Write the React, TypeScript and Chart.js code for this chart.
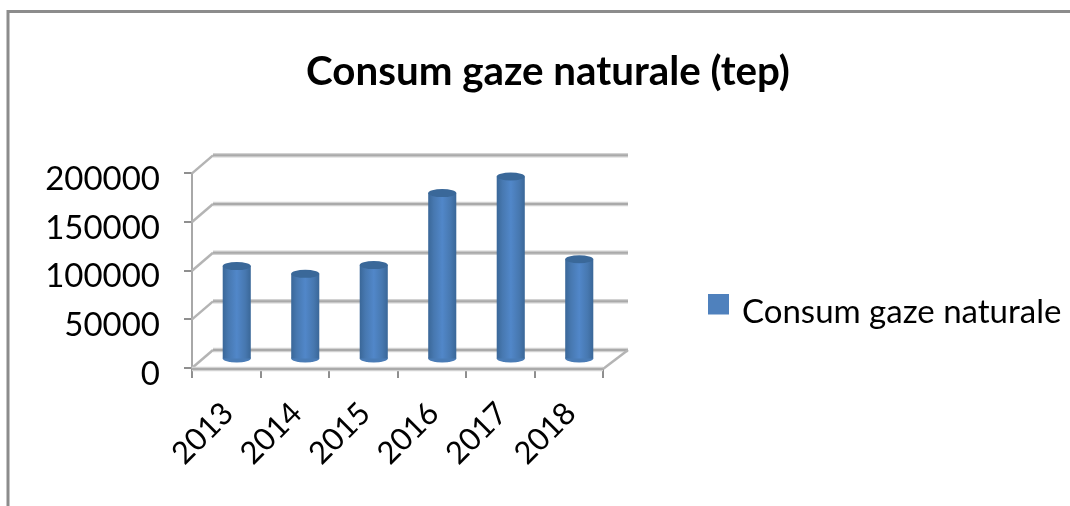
import React, { useEffect, useRef } from "react";
import { Chart, registerables } from "chart.js";

Chart.register(...registerables);

const categories = ["2013", "2014", "2015", "2016", "2017", "2018"];
const seriesName = "Consum gaze naturale";
const gasValues = [96000, 88000, 97000, 171000, 188000, 103000];
const titleText = "Consum gaze naturale (tep)";
const yTicks = { min: 0, max: 200000, step: 50000 };

const FONT = "Lato, Carlito, 'Open Sans', sans-serif";
const DEPTH_X = 21;
const DEPTH_Y = -18;
const BAR_DX = 10.5;
const BAR_DY = -8.5;

const legendSwatch = () => {
  const c = document.createElement("canvas");
  c.width = 21;
  c.height = 37;
  const g = c.getContext("2d") as CanvasRenderingContext2D;
  g.fillStyle = "#4f81bd";
  g.fillRect(0, 0, 21, 21);
  return c;
};

const perspective = {
  id: "perspective",
  afterLayout(chart: any) {
    chart.titleBlock.left = 26;
    chart.titleBlock.right = 1070;
    const leg = chart.legend;
    const shiftY = 59;
    leg.left = 701.5;
    leg.right = 1070;
    leg.width = 368.5;
    leg.top += shiftY;
    leg.bottom += shiftY;
  },
  beforeDraw(chart: any) {
    const { ctx, width, height } = chart;
    ctx.save();
    ctx.strokeStyle = "#8c8c8c";
    ctx.lineWidth = 3;
    ctx.beginPath();
    ctx.moveTo(8, height);
    ctx.lineTo(8, 11.5);
    ctx.lineTo(width, 11.5);
    ctx.stroke();
    ctx.restore();
  },
  beforeDatasetsDraw(chart: any) {
    const { ctx, chartArea, scales } = chart;
    const { left, right } = chartArea;
    const soft = (x1: number, y1: number, x2: number, y2: number) => {
      ctx.strokeStyle = "#d2d2d2";
      ctx.lineWidth = 4.5;
      ctx.beginPath();
      ctx.moveTo(x1, y1);
      ctx.lineTo(x2, y2);
      ctx.stroke();
      ctx.strokeStyle = "#aaaaaa";
      ctx.lineWidth = 2;
      ctx.beginPath();
      ctx.moveTo(x1, y1);
      ctx.lineTo(x2, y2);
      ctx.stroke();
    };
    ctx.save();
    scales.y.ticks.forEach((tick: any) => {
      const y = scales.y.getPixelForValue(tick.value);
      soft(left + DEPTH_X, y + DEPTH_Y, right + DEPTH_X + 4, y + DEPTH_Y);
      ctx.lineWidth = 2.5;
      ctx.strokeStyle = "#b4b4b4";
      ctx.beginPath();
      ctx.moveTo(left, y);
      ctx.lineTo(left + DEPTH_X, y + DEPTH_Y);
      ctx.stroke();
    });
    const y0 = scales.y.getPixelForValue(0);
    soft(left, y0 + 1, right, y0 + 1);
    ctx.lineWidth = 2.5;
    ctx.strokeStyle = "#b4b4b4";
    ctx.beginPath();
    ctx.moveTo(right, y0 + 1);
    ctx.lineTo(right + DEPTH_X + 4, y0 + DEPTH_Y);
    ctx.stroke();
    ctx.restore();
  },
  beforeDatasetDraw(chart: any) {
    const { ctx } = chart;
    ctx.save();
    ctx.translate(BAR_DX, BAR_DY);
    const meta = chart.getDatasetMeta(0);
    meta.data.forEach((bar: any) => {
      ctx.fillStyle = "#4a7cb6";
      ctx.beginPath();
      ctx.ellipse(bar.x, bar.base, bar.width / 2, 4, 0, 0, Math.PI * 2);
      ctx.fill();
    });
  },
  afterDatasetDraw(chart: any) {
    const { ctx } = chart;
    const meta = chart.getDatasetMeta(0);
    meta.data.forEach((bar: any) => {
      ctx.fillStyle = "#3a6899";
      ctx.beginPath();
      ctx.ellipse(bar.x, bar.y, bar.width / 2, 4, 0, 0, Math.PI * 2);
      ctx.fill();
    });
    ctx.restore();
  },
};

export default function App() {
  const ref = useRef<HTMLCanvasElement | null>(null);
  useEffect(() => {
    const swatch = legendSwatch();
    const chart = new Chart(ref.current as HTMLCanvasElement, {
      type: "bar",
      data: {
        labels: categories,
        datasets: [
          {
            label: seriesName,
            data: gasValues,
            barPercentage: 0.41,
            categoryPercentage: 1,
            borderWidth: 0,
            backgroundColor: (c: any) => {
              const ch = c.chart;
              if (!ch.chartArea || c.dataIndex === undefined) return "#4f81bd";
              const x = ch.scales.x.getPixelForValue(c.dataIndex);
              const half = ((ch.chartArea.right - ch.chartArea.left) / 6) * 0.205;
              const g = ch.ctx.createLinearGradient(x - half, 0, x + half, 0);
              g.addColorStop(0, "#3a6798");
              g.addColorStop(0.2, "#4778b0");
              g.addColorStop(0.5, "#5187c9");
              g.addColorStop(0.8, "#4778b0");
              g.addColorStop(1, "#3a6798");
              return g;
            },
          },
        ],
      },
      plugins: [perspective],
      options: {
        responsive: false,
        animation: false,
        layout: { padding: { left: 0, right: 266, top: 0, bottom: 0 } },
        plugins: {
          tooltip: { enabled: false },
          title: {
            display: true,
            text: titleText,
            color: "#000",
            font: { family: FONT, size: 40.3, weight: "bold" },
            padding: { top: 48, bottom: 77 },
          },
          legend: {
            display: true,
            position: "right",
            labels: {
              color: "#000",
              usePointStyle: true,
              pointStyleWidth: 14,
              boxHeight: 21,
              font: { family: FONT, size: 33 },
              generateLabels: () => [
                { text: seriesName, fillStyle: "#4f81bd", strokeStyle: "#4f81bd", lineWidth: 0, datasetIndex: 0, pointStyle: swatch },
              ],
            },
          },
        },
        scales: {
          x: {
            afterFit: (s: any) => {
              s.height = 138;
            },
            border: { display: false },
            grid: { offset: true, drawOnChartArea: false, color: "#8f8f8f", lineWidth: 2, tickLength: 10 },
            ticks: { color: "#000", font: { family: FONT, size: 31 }, minRotation: 45, maxRotation: 45, padding: 17, labelOffset: 2 },
          },
          y: {
            min: yTicks.min,
            max: yTicks.max,
            afterFit: (s: any) => {
              s.width = 192;
            },
            border: { display: true, color: "#a8a8a8", width: 2 },
            grid: { drawOnChartArea: false, color: "#8f8f8f", lineWidth: 2, tickLength: 8 },
            ticks: {
              stepSize: yTicks.step,
              color: "#000",
              font: { family: FONT, size: 33 },
              padding: 24,
              labelOffset: 6,
              callback: (v: any) => String(v),
            },
          },
        },
      },
    } as any);
    return () => chart.destroy();
  }, []);
  return (
    <canvas
      ref={ref}
      width={1070}
      height={506}
      style={{ position: "absolute", left: 0, top: 0, width: 1070, height: 506, filter: "blur(0.6px)" }}
    />
  );
}
